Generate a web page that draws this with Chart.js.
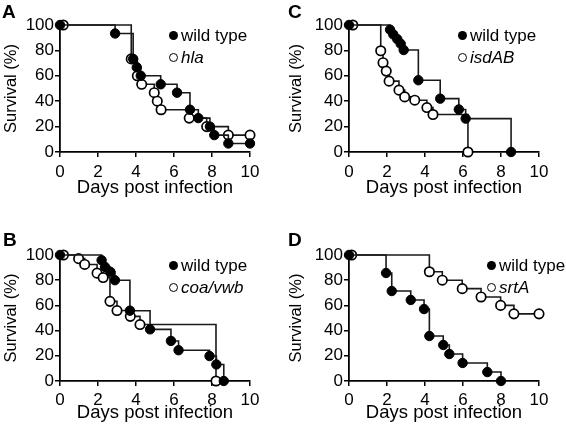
<!DOCTYPE html>
<html><head><meta charset="utf-8">
<script src="https://cdn.jsdelivr.net/npm/chart.js@4.4.1/dist/chart.umd.min.js"></script>
<style>
html,body{margin:0;padding:0;background:#fff;}
#wrap{position:relative;width:566px;height:429px;overflow:hidden;font-family:"Liberation Sans",Arial,sans-serif;color:#000;}
.panel{position:absolute;}
.letter{position:absolute;font-weight:bold;font-size:19px;line-height:19px;}
.leg{position:absolute;font-size:17px;line-height:17px;white-space:nowrap;}
.dot{position:absolute;width:9px;height:9px;border-radius:50%;box-sizing:border-box;}
</style></head><body>
<div id="wrap"></div>
<script>
// ---- data ----
const xTicks = [0, 2, 4, 6, 8, 10];
const yTicks = [0, 20, 40, 60, 80, 100];
const xTitle = 'Days post infection';
const yTitle = 'Survival (%)';
const wildLabel = 'wild type';
const panelLetters = ['A', 'B', 'C', 'D'];
const mutantLabels = ['hla', 'coa/vwb', 'isdAB', 'srtA'];

const aWildDays = [0, 2.9, 3.85, 4.04, 4.25, 5.3, 6.16, 6.84, 7.28, 7.89, 8.12, 8.86, 10];
const aWildSurv = [100, 93.3, 73.3, 66.7, 60, 53.3, 46.7, 33.3, 26.7, 20, 13.3, 6.7, 6.7];
const aMutDays  = [0.17, 3.75, 4.07, 4.3, 4.96, 5.12, 5.32, 6.8, 7.72, 8.86, 10];
const aMutSurv  = [100, 73.3, 60, 53.3, 46.7, 40, 33.3, 26.7, 20, 13.3, 13.3];

const bWildDays = [0, 2.19, 2.37, 2.65, 2.89, 3.68, 4.74, 5.84, 6.24, 7.87, 8.23, 8.62];
const bWildSurv = [100, 95.8, 90.5, 86.6, 80, 55.8, 41, 31.8, 24.4, 19.8, 13.1, 0];
const bMutDays  = [0.18, 0.98, 1.3, 1.95, 2.27, 2.63, 3.0, 3.7, 4.21, 8.21];
const bMutSurv  = [100, 97.1, 92.5, 85.6, 82.1, 63.2, 55.9, 51.3, 44.8, 0];

const cWildDays = [0, 2.16, 2.33, 2.54, 2.72, 2.88, 3.65, 4.8, 5.78, 6.14, 8.53];
const cWildSurv = [100, 96.3, 92.6, 88.9, 85.2, 80.3, 56.5, 42, 33.5, 26.3, 0];
const cMutDays  = [0.2, 1.67, 1.79, 1.96, 2.11, 2.63, 2.93, 3.46, 4.1, 4.42, 6.26];
const cMutSurv  = [100, 79.7, 70.3, 63.7, 55.8, 48.7, 43.4, 40.8, 35, 29.5, 0];

const dWildDays = [0, 1.95, 2.25, 3.25, 3.95, 4.23, 4.96, 5.28, 5.98, 7.28, 8.0];
const dWildSurv = [100, 85.7, 71.4, 64.3, 57.1, 35.7, 28.6, 21.4, 14.3, 7.1, 0];
const dMutDays  = [0.14, 4.23, 4.91, 5.96, 6.95, 7.98, 8.68, 10];
const dMutSurv  = [100, 86.7, 80, 73.3, 66.7, 60, 53.3, 53.3];

// ---- layout (positions / sizes only) ----
const FONT = '"Liberation Sans", Arial, sans-serif';
const panels = [
  {x:0,   y:0,   w:283, h:214, padTop:25, padRight:33, yW:60, xH:62, xTitlePad:15, tickPad:5, yTitlePad:2,
   wd:aWildDays, ws:aWildSurv, md:aMutDays, ms:aMutSurv, letter:panelLetters[0], mut:mutantLabels[0],
   lx:2, ly:2, legX:173, legY:35},
  {x:0,   y:214, w:283, h:215, padTop:41, padRight:33, yW:60, xH:48, xTitlePad:5, tickPad:4, yTitlePad:2,
   wd:bWildDays, ws:bWildSurv, md:bMutDays, ms:bMutSurv, letter:panelLetters[1], mut:mutantLabels[1],
   lx:3, ly:16, legX:173, legY:51},
  {x:283, y:0,   w:283, h:214, padTop:25, padRight:27, yW:66, xH:62, xTitlePad:15, tickPad:5, yTitlePad:4,
   wd:cWildDays, ws:cWildSurv, md:cMutDays, ms:cMutSurv, letter:panelLetters[2], mut:mutantLabels[2],
   lx:5, ly:2, legX:179, legY:35},
  {x:283, y:214, w:283, h:215, padTop:41, padRight:27, yW:66, xH:48, xTitlePad:5, tickPad:4, yTitlePad:4,
   wd:dWildDays, ws:dWildSurv, md:dMutDays, ms:dMutSurv, letter:panelLetters[3], mut:mutantLabels[3],
   lx:5, ly:16, legX:208, legY:51}
];

const wrap = document.getElementById('wrap');
const toXY = (xs, ys) => xs.map((v, i) => ({x: v, y: ys[i]}));

function addLegendRow(div, x, cy, filled, text, italic) {
  const d = document.createElement('div');
  d.className = 'dot';
  d.style.left = (x - 4.5) + 'px'; d.style.top = (cy - 4.5) + 'px';
  if (filled) { d.style.background = '#000'; }
  else { d.style.background = '#fff'; d.style.border = '1.7px solid #000'; }
  div.appendChild(d);
  const t = document.createElement('div');
  t.className = 'leg';
  t.style.left = (x + 8) + 'px'; t.style.top = (cy - 8.5) + 'px';
  if (italic) t.style.fontStyle = 'italic';
  t.textContent = text;
  div.appendChild(t);
}

panels.forEach(p => {
  const div = document.createElement('div');
  div.className = 'panel';
  div.style.left = p.x + 'px'; div.style.top = p.y + 'px';
  div.style.width = p.w + 'px'; div.style.height = p.h + 'px';
  const canvas = document.createElement('canvas');
  canvas.width = p.w; canvas.height = p.h;
  canvas.style.width = p.w + 'px'; canvas.style.height = p.h + 'px';
  div.appendChild(canvas);
  wrap.appendChild(div);

  const letter = document.createElement('div');
  letter.className = 'letter';
  letter.style.left = p.lx + 'px'; letter.style.top = p.ly + 'px';
  letter.textContent = p.letter;
  div.appendChild(letter);

  addLegendRow(div, p.legX, p.legY, true, wildLabel, false);
  addLegendRow(div, p.legX, p.legY + 22, false, p.mut, true);

  const common = {stepped: true, borderColor: '#1a1a1a', borderWidth: 1.6, fill: false,
                  clip: false, pointRadius: 4.7, pointHoverRadius: 4.7, tension: 0};
  new Chart(canvas, {
    type: 'line',
    data: {datasets: [
      Object.assign({label: wildLabel, data: toXY(p.wd, p.ws),
        pointBackgroundColor: '#000', pointBorderColor: '#000', pointBorderWidth: 1}, common),
      Object.assign({label: p.mut, data: toXY(p.md, p.ms),
        pointBackgroundColor: '#fff', pointBorderColor: '#000', pointBorderWidth: 1.7}, common)
    ]},
    options: {
      responsive: false, animation: false, devicePixelRatio: 1,
      layout: {autoPadding: false, padding: {left: 0, top: p.padTop, right: p.padRight, bottom: 0}},
      plugins: {legend: {display: false}, tooltip: {enabled: false}},
      events: [],
      scales: {
        x: {
          type: 'linear', min: 0, max: 10,
          afterBuildTicks: s => { s.ticks = xTicks.map(v => ({value: v})); },
          afterFit: s => { s.height = p.xH; },
          ticks: {color: '#000', font: {family: FONT, size: 17}, padding: p.tickPad, maxRotation: 0, autoSkip: false},
          grid: {display: true, drawOnChartArea: false, drawTicks: true, tickLength: 5, color: '#000', lineWidth: 1.5},
          border: {display: true, color: '#000', width: 1.8},
          title: {display: true, text: xTitle, color: '#000', font: {family: FONT, size: 18.5},
                  padding: {top: 0, bottom: p.xTitlePad}}
        },
        y: {
          type: 'linear', min: 0, max: 100,
          afterBuildTicks: s => { s.ticks = yTicks.map(v => ({value: v})); },
          afterFit: s => { s.width = p.yW; },
          ticks: {color: '#000', font: {family: FONT, size: 17}, padding: 1, autoSkip: false},
          grid: {display: true, drawOnChartArea: false, drawTicks: true, tickLength: 5, color: '#000', lineWidth: 1.5},
          border: {display: true, color: '#000', width: 1.8},
          title: {display: true, text: yTitle, color: '#000', font: {family: FONT, size: 16.5},
                  padding: {top: p.yTitlePad, bottom: 0}}
        }
      }
    }
  });
});
</script>
</body></html>
